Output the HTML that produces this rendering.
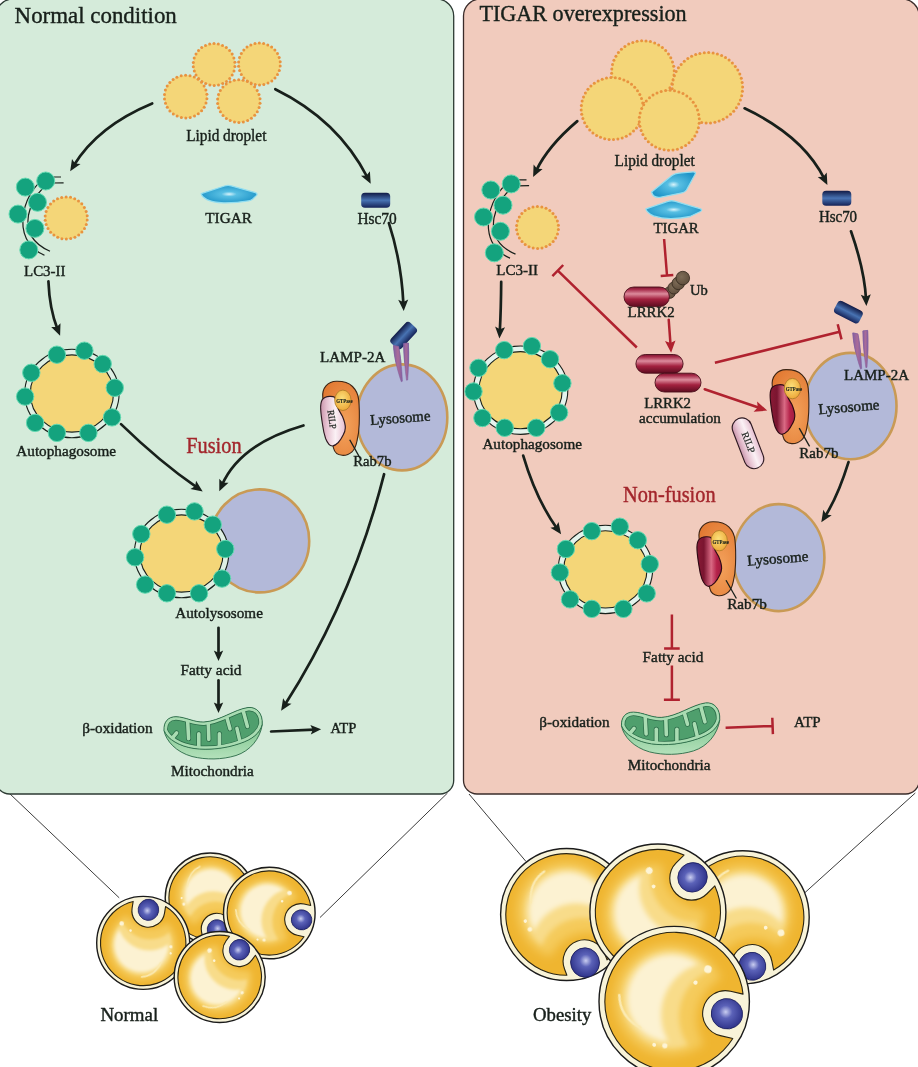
<!DOCTYPE html>
<html lang="en">
<head>
<meta charset="utf-8">
<title>TIGAR, lipophagy and obesity</title>
<style>html,body{margin:0;padding:0;background:#fff}body{width:918px;height:1067px;overflow:hidden}</style>
</head>
<body>
<svg width="918" height="1067" viewBox="0 0 918 1067" font-family="'Liberation Serif', 'DejaVu Serif', serif" style="display:block">
<defs>
<linearGradient id="gHsc" x1="0" y1="0" x2="0" y2="1">
 <stop offset="0" stop-color="#111a45"/><stop offset="0.5" stop-color="#4873b3"/><stop offset="1" stop-color="#152257"/>
</linearGradient>
<linearGradient id="gLrrk" x1="0" y1="0" x2="0" y2="1">
 <stop offset="0" stop-color="#7a1530"/><stop offset="0.12" stop-color="#a52a48"/><stop offset="0.35" stop-color="#dc8b9c"/><stop offset="0.62" stop-color="#a3213f"/><stop offset="1" stop-color="#5d0c20"/>
</linearGradient>
<linearGradient id="gLrrkV" x1="0" y1="0" x2="1" y2="0">
 <stop offset="0" stop-color="#8a1a35"/><stop offset="0.28" stop-color="#7a1530"/><stop offset="0.58" stop-color="#d96a84"/><stop offset="0.8" stop-color="#b5234a"/><stop offset="1" stop-color="#a01c40"/>
</linearGradient>
<linearGradient id="gRilp" x1="0" y1="0" x2="1" y2="0">
 <stop offset="0" stop-color="#c995ab"/><stop offset="0.25" stop-color="#e6c2d1"/><stop offset="0.6" stop-color="#fbf1f5"/><stop offset="1" stop-color="#e6bfd0"/>
</linearGradient>
<radialGradient id="gRab" cx="0.6" cy="0.6" r="0.7">
 <stop offset="0" stop-color="#f3a25c"/><stop offset="1" stop-color="#e27a33"/>
</radialGradient>
<radialGradient id="gGtp" cx="0.45" cy="0.4" r="0.6">
 <stop offset="0" stop-color="#fbe07a"/><stop offset="1" stop-color="#eea93a"/>
</radialGradient>
<radialGradient id="gTigar" cx="0.5" cy="0.5" r="0.55">
 <stop offset="0" stop-color="#d9f4fb"/><stop offset="0.25" stop-color="#58bfe3"/><stop offset="1" stop-color="#1f95c8"/>
</radialGradient>
<radialGradient id="gNuc" cx="0.45" cy="0.45" r="0.6">
 <stop offset="0" stop-color="#c9cdf0"/><stop offset="0.35" stop-color="#5b62b8"/><stop offset="1" stop-color="#2b2f86"/>
</radialGradient>
<radialGradient id="gUb" cx="0.4" cy="0.4" r="0.7">
 <stop offset="0" stop-color="#7e6c57"/><stop offset="1" stop-color="#5c4b3a"/>
</radialGradient>
<linearGradient id="gLamp" x1="0" y1="0" x2="1" y2="0">
 <stop offset="0" stop-color="#8461a3"/><stop offset="0.5" stop-color="#a96b98"/><stop offset="1" stop-color="#8461a3"/>
</linearGradient>
<radialGradient id="gLip" cx="0.5" cy="0.5" r="0.5">
 <stop offset="0" stop-color="#f6d068"/><stop offset="0.62" stop-color="#f2c34d"/><stop offset="0.86" stop-color="#eaae2c"/><stop offset="1" stop-color="#e09c1c"/>
</radialGradient>
<filter id="fBlur0" x="-50%" y="-50%" width="200%" height="200%"><feGaussianBlur stdDeviation="0.6"/></filter>
<filter id="fBlur2S" x="-30%" y="-30%" width="160%" height="160%"><feGaussianBlur stdDeviation="3.2"/></filter>
<filter id="fBlur2L" x="-30%" y="-30%" width="160%" height="160%"><feGaussianBlur stdDeviation="4.6"/></filter>
<filter id="fBlurS" x="-30%" y="-30%" width="160%" height="160%"><feGaussianBlur stdDeviation="1.8"/></filter>
<filter id="fBlurL" x="-30%" y="-30%" width="160%" height="160%"><feGaussianBlur stdDeviation="2.6"/></filter>
<linearGradient id="gMitoLow" x1="0" y1="0" x2="0" y2="1">
 <stop offset="0" stop-color="#7cc48d"/><stop offset="1" stop-color="#b4e1bb"/>
</linearGradient>
<clipPath id="mf1"><path d="M164 730.4 C163.5 722 168 716.6 176 716.7 C186 717 194 722.5 204 722 C220 721 234 709.5 248 707.5 C257 706.5 263 714 262.2 724.3 C260 733.5 252 739.5 240 743.5 C226 748.5 208 750.5 194 748.5 C180 746.5 167.5 739.5 164 730.4Z"/></clipPath><clipPath id="mf2"><path d="M164 730.4 C163.5 722 168 716.6 176 716.7 C186 717 194 722.5 204 722 C220 721 234 709.5 248 707.5 C257 706.5 263 714 262.2 724.3 C260 733.5 252 739.5 240 743.5 C226 748.5 208 750.5 194 748.5 C180 746.5 167.5 739.5 164 730.4Z"/></clipPath><clipPath id="cl1"><path d="M38.3 15.5 A41.3 41.3 0 1 1 38.3 -15.5 L31.5 -15.5 A15.5 15.5 0 0 0 31.5 15.5Z"/></clipPath><mask id="m1_4" maskUnits="userSpaceOnUse" x="-45.0" y="-45.0" width="90.0" height="90.0"><rect x="-45.0" y="-45.0" width="90.0" height="90.0" fill="#000"/><circle cx="-2.7" cy="-0.5" r="33.3" fill="#fff"/><circle cx="42.8" cy="0.9" r="27.9" fill="#000"/></mask><mask id="m1_5" maskUnits="userSpaceOnUse" x="-45.0" y="-45.0" width="90.0" height="90.0"><rect x="-45.0" y="-45.0" width="90.0" height="90.0" fill="#000"/><circle cx="-2.2" cy="-0.9" r="29.2" fill="#fff"/><circle cx="33.8" cy="1.3" r="29.7" fill="#000"/></mask><mask id="m1_6" maskUnits="userSpaceOnUse" x="-45.0" y="-45.0" width="90.0" height="90.0"><rect x="-45.0" y="-45.0" width="90.0" height="90.0" fill="#000"/><circle cx="-2.2" cy="-1.3" r="26.1" fill="#fff"/><circle cx="24.8" cy="2.2" r="31.5" fill="#000"/></mask><clipPath id="cl2"><path d="M38.9 16.0 A42.1 42.1 0 1 1 38.9 -16.0 L32.1 -16.0 A16.0 16.0 0 0 0 32.1 16.0Z"/></clipPath><mask id="m2_8" maskUnits="userSpaceOnUse" x="-45.8" y="-45.8" width="91.6" height="91.6"><rect x="-45.8" y="-45.8" width="91.6" height="91.6" fill="#000"/><circle cx="-2.7" cy="-0.5" r="33.9" fill="#fff"/><circle cx="43.5" cy="0.9" r="28.4" fill="#000"/></mask><mask id="m2_9" maskUnits="userSpaceOnUse" x="-45.8" y="-45.8" width="91.6" height="91.6"><rect x="-45.8" y="-45.8" width="91.6" height="91.6" fill="#000"/><circle cx="-2.3" cy="-0.9" r="29.8" fill="#fff"/><circle cx="34.3" cy="1.4" r="30.2" fill="#000"/></mask><mask id="m2_10" maskUnits="userSpaceOnUse" x="-45.8" y="-45.8" width="91.6" height="91.6"><rect x="-45.8" y="-45.8" width="91.6" height="91.6" fill="#000"/><circle cx="-2.3" cy="-1.4" r="26.6" fill="#fff"/><circle cx="25.2" cy="2.3" r="32.1" fill="#000"/></mask><clipPath id="cl3"><path d="M39.4 16.4 A42.7 42.7 0 1 1 39.4 -16.4 L32.5 -16.4 A16.4 16.4 0 0 0 32.5 16.4Z"/></clipPath><mask id="m3_12" maskUnits="userSpaceOnUse" x="-46.5" y="-46.5" width="93.0" height="93.0"><rect x="-46.5" y="-46.5" width="93.0" height="93.0" fill="#000"/><circle cx="-2.8" cy="-0.5" r="34.4" fill="#fff"/><circle cx="44.2" cy="0.9" r="28.8" fill="#000"/></mask><mask id="m3_13" maskUnits="userSpaceOnUse" x="-46.5" y="-46.5" width="93.0" height="93.0"><rect x="-46.5" y="-46.5" width="93.0" height="93.0" fill="#000"/><circle cx="-2.3" cy="-0.9" r="30.2" fill="#fff"/><circle cx="34.9" cy="1.4" r="30.7" fill="#000"/></mask><mask id="m3_14" maskUnits="userSpaceOnUse" x="-46.5" y="-46.5" width="93.0" height="93.0"><rect x="-46.5" y="-46.5" width="93.0" height="93.0" fill="#000"/><circle cx="-2.3" cy="-1.4" r="27.0" fill="#fff"/><circle cx="25.6" cy="2.3" r="32.5" fill="#000"/></mask><clipPath id="cl4"><path d="M38.6 16.1 A41.8 41.8 0 1 1 38.6 -16.1 L32.8 -16.1 A16.1 16.1 0 0 0 32.8 16.1Z"/></clipPath><mask id="m4_16" maskUnits="userSpaceOnUse" x="-45.5" y="-45.5" width="91.0" height="91.0"><rect x="-45.5" y="-45.5" width="91.0" height="91.0" fill="#000"/><circle cx="-2.7" cy="-0.5" r="33.7" fill="#fff"/><circle cx="43.2" cy="0.9" r="28.2" fill="#000"/></mask><mask id="m4_17" maskUnits="userSpaceOnUse" x="-45.5" y="-45.5" width="91.0" height="91.0"><rect x="-45.5" y="-45.5" width="91.0" height="91.0" fill="#000"/><circle cx="-2.3" cy="-0.9" r="29.6" fill="#fff"/><circle cx="34.1" cy="1.4" r="30.0" fill="#000"/></mask><mask id="m4_18" maskUnits="userSpaceOnUse" x="-45.5" y="-45.5" width="91.0" height="91.0"><rect x="-45.5" y="-45.5" width="91.0" height="91.0" fill="#000"/><circle cx="-2.3" cy="-1.4" r="26.4" fill="#fff"/><circle cx="25.0" cy="2.3" r="31.8" fill="#000"/></mask><clipPath id="cl5"><path d="M56.8 21.5 A60.8 60.8 0 1 1 56.8 -21.5 L50.2 -21.5 A21.5 21.5 0 0 0 50.2 21.5Z"/></clipPath><mask id="m5_20" maskUnits="userSpaceOnUse" x="-66.0" y="-66.0" width="132.0" height="132.0"><rect x="-66.0" y="-66.0" width="132.0" height="132.0" fill="#000"/><circle cx="-4.0" cy="-0.7" r="48.8" fill="#fff"/><circle cx="62.7" cy="1.3" r="40.9" fill="#000"/></mask><mask id="m5_21" maskUnits="userSpaceOnUse" x="-66.0" y="-66.0" width="132.0" height="132.0"><rect x="-66.0" y="-66.0" width="132.0" height="132.0" fill="#000"/><circle cx="-3.3" cy="-1.3" r="42.9" fill="#fff"/><circle cx="49.5" cy="2.0" r="43.6" fill="#000"/></mask><mask id="m5_22" maskUnits="userSpaceOnUse" x="-66.0" y="-66.0" width="132.0" height="132.0"><rect x="-66.0" y="-66.0" width="132.0" height="132.0" fill="#000"/><circle cx="-3.3" cy="-2.0" r="38.3" fill="#fff"/><circle cx="36.3" cy="3.3" r="46.2" fill="#000"/></mask><clipPath id="cl6"><path d="M57.7 20.3 A61.2 61.2 0 1 1 57.7 -20.3 L48.5 -20.3 A20.3 20.3 0 0 0 48.5 20.3Z"/></clipPath><mask id="m6_24" maskUnits="userSpaceOnUse" x="-66.5" y="-66.5" width="133.0" height="133.0"><rect x="-66.5" y="-66.5" width="133.0" height="133.0" fill="#000"/><circle cx="-4.0" cy="-0.7" r="49.2" fill="#fff"/><circle cx="63.2" cy="1.3" r="41.2" fill="#000"/></mask><mask id="m6_25" maskUnits="userSpaceOnUse" x="-66.5" y="-66.5" width="133.0" height="133.0"><rect x="-66.5" y="-66.5" width="133.0" height="133.0" fill="#000"/><circle cx="-3.3" cy="-1.3" r="43.2" fill="#fff"/><circle cx="49.9" cy="2.0" r="43.9" fill="#000"/></mask><mask id="m6_26" maskUnits="userSpaceOnUse" x="-66.5" y="-66.5" width="133.0" height="133.0"><rect x="-66.5" y="-66.5" width="133.0" height="133.0" fill="#000"/><circle cx="-3.3" cy="-2.0" r="38.6" fill="#fff"/><circle cx="36.6" cy="3.3" r="46.5" fill="#000"/></mask><clipPath id="cl7"><path d="M58.7 21.8 A62.6 62.6 0 1 1 58.7 -21.8 L47.6 -21.8 A21.8 21.8 0 0 0 47.6 21.8Z"/></clipPath><mask id="m7_28" maskUnits="userSpaceOnUse" x="-68.0" y="-68.0" width="136.0" height="136.0"><rect x="-68.0" y="-68.0" width="136.0" height="136.0" fill="#000"/><circle cx="-4.1" cy="-0.7" r="50.3" fill="#fff"/><circle cx="64.6" cy="1.4" r="42.2" fill="#000"/></mask><mask id="m7_29" maskUnits="userSpaceOnUse" x="-68.0" y="-68.0" width="136.0" height="136.0"><rect x="-68.0" y="-68.0" width="136.0" height="136.0" fill="#000"/><circle cx="-3.4" cy="-1.4" r="44.2" fill="#fff"/><circle cx="51.0" cy="2.0" r="44.9" fill="#000"/></mask><mask id="m7_30" maskUnits="userSpaceOnUse" x="-68.0" y="-68.0" width="136.0" height="136.0"><rect x="-68.0" y="-68.0" width="136.0" height="136.0" fill="#000"/><circle cx="-3.4" cy="-2.0" r="39.4" fill="#fff"/><circle cx="37.4" cy="3.4" r="47.6" fill="#000"/></mask><clipPath id="cl8"><path d="M65.4 22.8 A69.3 69.3 0 1 1 65.4 -22.8 L52.6 -22.8 A22.8 22.8 0 0 0 52.6 22.8Z"/></clipPath><mask id="m8_32" maskUnits="userSpaceOnUse" x="-75.2" y="-75.2" width="150.4" height="150.4"><rect x="-75.2" y="-75.2" width="150.4" height="150.4" fill="#000"/><circle cx="-4.5" cy="-0.8" r="55.6" fill="#fff"/><circle cx="71.4" cy="1.5" r="46.6" fill="#000"/></mask><mask id="m8_33" maskUnits="userSpaceOnUse" x="-75.2" y="-75.2" width="150.4" height="150.4"><rect x="-75.2" y="-75.2" width="150.4" height="150.4" fill="#000"/><circle cx="-3.8" cy="-1.5" r="48.9" fill="#fff"/><circle cx="56.4" cy="2.3" r="49.6" fill="#000"/></mask><mask id="m8_34" maskUnits="userSpaceOnUse" x="-75.2" y="-75.2" width="150.4" height="150.4"><rect x="-75.2" y="-75.2" width="150.4" height="150.4" fill="#000"/><circle cx="-3.8" cy="-2.3" r="43.6" fill="#fff"/><circle cx="41.4" cy="3.8" r="52.6" fill="#000"/></mask></defs>
<g opacity="0.999">
<rect x="0" y="0" width="918" height="1067" fill="#ffffff"/>
<g stroke="#3c3c3c" stroke-width="1" fill="none"><path d="M9 793 L119.2 897.8"/><path d="M447.5 793 L320 917.5"/><path d="M469 794 L526 861.5"/><path d="M915.3 793 L804.5 893"/></g>
<path d="M13 -1 L436.7 -1 A17 17 0 0 1 453.7 16 L453.7 780.5 A13.5 13.5 0 0 1 440.2 794 L9.5 794 A13.5 13.5 0 0 1 -4 780.5 L-4 16 A17 17 0 0 1 13 -1Z" fill="#d5ebda" stroke="#2c3a33" stroke-width="1.3"/>
<path d="M480.5 -1 L902.2 -1 A17 17 0 0 1 919.2 16 L919.2 780.5 A13.5 13.5 0 0 1 905.7 794 L477.0 794 A13.5 13.5 0 0 1 463.5 780.5 L463.5 16 A17 17 0 0 1 480.5 -1Z" fill="#f1cbbd" stroke="#3a2c2a" stroke-width="1.3"/>
<text x="14.6" y="23.0" font-size="23.6" fill="#18201b" stroke="#18201b" stroke-width="0.42" textLength="162.2" lengthAdjust="spacingAndGlyphs" >Normal condition</text>
<text x="479.4" y="21.4" font-size="23.6" fill="#18201b" stroke="#18201b" stroke-width="0.42" textLength="207.3" lengthAdjust="spacingAndGlyphs" >TIGAR overexpression</text>
<circle cx="214.1" cy="64.5" r="20.9" fill="#f4d678"/>
<g fill="#e8933f"><circle cx="234.9" cy="66.6" r="1.5"/><circle cx="234.0" cy="70.9" r="1.5"/><circle cx="232.2" cy="74.9" r="1.5"/><circle cx="229.7" cy="78.4" r="1.5"/><circle cx="226.5" cy="81.4" r="1.5"/><circle cx="222.7" cy="83.6" r="1.5"/><circle cx="218.5" cy="84.9" r="1.5"/><circle cx="214.2" cy="85.4" r="1.5"/><circle cx="209.9" cy="85.0" r="1.5"/><circle cx="205.7" cy="83.6" r="1.5"/><circle cx="201.9" cy="81.5" r="1.5"/><circle cx="198.6" cy="78.6" r="1.5"/><circle cx="196.0" cy="75.0" r="1.5"/><circle cx="194.3" cy="71.1" r="1.5"/><circle cx="193.3" cy="66.8" r="1.5"/><circle cx="193.3" cy="62.4" r="1.5"/><circle cx="194.2" cy="58.1" r="1.5"/><circle cx="196.0" cy="54.1" r="1.5"/><circle cx="198.5" cy="50.6" r="1.5"/><circle cx="201.7" cy="47.6" r="1.5"/><circle cx="205.5" cy="45.4" r="1.5"/><circle cx="209.7" cy="44.1" r="1.5"/><circle cx="214.0" cy="43.6" r="1.5"/><circle cx="218.3" cy="44.0" r="1.5"/><circle cx="222.5" cy="45.4" r="1.5"/><circle cx="226.3" cy="47.5" r="1.5"/><circle cx="229.6" cy="50.4" r="1.5"/><circle cx="232.2" cy="54.0" r="1.5"/><circle cx="233.9" cy="57.9" r="1.5"/><circle cx="234.9" cy="62.2" r="1.5"/></g>
<circle cx="259.4" cy="64.0" r="20.9" fill="#f4d678"/>
<g fill="#e8933f"><circle cx="280.2" cy="66.1" r="1.5"/><circle cx="279.3" cy="70.4" r="1.5"/><circle cx="277.5" cy="74.4" r="1.5"/><circle cx="275.0" cy="77.9" r="1.5"/><circle cx="271.8" cy="80.9" r="1.5"/><circle cx="268.0" cy="83.1" r="1.5"/><circle cx="263.8" cy="84.4" r="1.5"/><circle cx="259.5" cy="84.9" r="1.5"/><circle cx="255.2" cy="84.5" r="1.5"/><circle cx="251.0" cy="83.1" r="1.5"/><circle cx="247.2" cy="81.0" r="1.5"/><circle cx="243.9" cy="78.1" r="1.5"/><circle cx="241.3" cy="74.5" r="1.5"/><circle cx="239.6" cy="70.6" r="1.5"/><circle cx="238.6" cy="66.3" r="1.5"/><circle cx="238.6" cy="61.9" r="1.5"/><circle cx="239.5" cy="57.6" r="1.5"/><circle cx="241.3" cy="53.6" r="1.5"/><circle cx="243.8" cy="50.1" r="1.5"/><circle cx="247.0" cy="47.1" r="1.5"/><circle cx="250.8" cy="44.9" r="1.5"/><circle cx="255.0" cy="43.6" r="1.5"/><circle cx="259.3" cy="43.1" r="1.5"/><circle cx="263.6" cy="43.5" r="1.5"/><circle cx="267.8" cy="44.9" r="1.5"/><circle cx="271.6" cy="47.0" r="1.5"/><circle cx="274.9" cy="49.9" r="1.5"/><circle cx="277.5" cy="53.5" r="1.5"/><circle cx="279.2" cy="57.4" r="1.5"/><circle cx="280.2" cy="61.7" r="1.5"/></g>
<circle cx="185.7" cy="96.6" r="21.3" fill="#f4d678"/>
<g fill="#e8933f"><circle cx="206.9" cy="98.7" r="1.5"/><circle cx="206.0" cy="103.1" r="1.5"/><circle cx="204.2" cy="107.2" r="1.5"/><circle cx="201.6" cy="110.8" r="1.5"/><circle cx="198.3" cy="113.8" r="1.5"/><circle cx="194.5" cy="116.0" r="1.5"/><circle cx="190.2" cy="117.4" r="1.5"/><circle cx="185.8" cy="117.9" r="1.5"/><circle cx="181.4" cy="117.5" r="1.5"/><circle cx="177.1" cy="116.1" r="1.5"/><circle cx="173.3" cy="113.9" r="1.5"/><circle cx="169.9" cy="110.9" r="1.5"/><circle cx="167.3" cy="107.3" r="1.5"/><circle cx="165.5" cy="103.3" r="1.5"/><circle cx="164.5" cy="98.9" r="1.5"/><circle cx="164.5" cy="94.5" r="1.5"/><circle cx="165.4" cy="90.1" r="1.5"/><circle cx="167.2" cy="86.0" r="1.5"/><circle cx="169.8" cy="82.4" r="1.5"/><circle cx="173.1" cy="79.4" r="1.5"/><circle cx="176.9" cy="77.2" r="1.5"/><circle cx="181.2" cy="75.8" r="1.5"/><circle cx="185.6" cy="75.3" r="1.5"/><circle cx="190.0" cy="75.7" r="1.5"/><circle cx="194.3" cy="77.1" r="1.5"/><circle cx="198.1" cy="79.3" r="1.5"/><circle cx="201.5" cy="82.3" r="1.5"/><circle cx="204.1" cy="85.9" r="1.5"/><circle cx="205.9" cy="89.9" r="1.5"/><circle cx="206.9" cy="94.3" r="1.5"/></g>
<circle cx="238.8" cy="101.1" r="21.3" fill="#f4d678"/>
<g fill="#e8933f"><circle cx="260.0" cy="103.2" r="1.5"/><circle cx="259.1" cy="107.6" r="1.5"/><circle cx="257.3" cy="111.7" r="1.5"/><circle cx="254.7" cy="115.3" r="1.5"/><circle cx="251.4" cy="118.3" r="1.5"/><circle cx="247.6" cy="120.5" r="1.5"/><circle cx="243.3" cy="121.9" r="1.5"/><circle cx="238.9" cy="122.4" r="1.5"/><circle cx="234.5" cy="122.0" r="1.5"/><circle cx="230.2" cy="120.6" r="1.5"/><circle cx="226.4" cy="118.4" r="1.5"/><circle cx="223.0" cy="115.4" r="1.5"/><circle cx="220.4" cy="111.8" r="1.5"/><circle cx="218.6" cy="107.8" r="1.5"/><circle cx="217.6" cy="103.4" r="1.5"/><circle cx="217.6" cy="99.0" r="1.5"/><circle cx="218.5" cy="94.6" r="1.5"/><circle cx="220.3" cy="90.5" r="1.5"/><circle cx="222.9" cy="86.9" r="1.5"/><circle cx="226.2" cy="83.9" r="1.5"/><circle cx="230.0" cy="81.7" r="1.5"/><circle cx="234.3" cy="80.3" r="1.5"/><circle cx="238.7" cy="79.8" r="1.5"/><circle cx="243.1" cy="80.2" r="1.5"/><circle cx="247.4" cy="81.6" r="1.5"/><circle cx="251.2" cy="83.8" r="1.5"/><circle cx="254.6" cy="86.8" r="1.5"/><circle cx="257.2" cy="90.4" r="1.5"/><circle cx="259.0" cy="94.4" r="1.5"/><circle cx="260.0" cy="98.8" r="1.5"/></g>
<text x="186.2" y="140.7" font-size="16" fill="#18201b" stroke="#18201b" stroke-width="0.42" textLength="80.2" lengthAdjust="spacingAndGlyphs" >Lipid droplet</text>
<path d="M152.2 103.5 Q98.0 126.0 73.9 165.3" fill="none" stroke="#18201b" stroke-width="2.7" stroke-linecap="round"/>
<polygon points="70.2,171.3 72.0,158.9 75.0,163.5 80.5,164.1" fill="#18201b"/>
<path d="M275.3 89.2 Q338.0 120.0 367.5 177.5" fill="none" stroke="#18201b" stroke-width="2.7" stroke-linecap="round"/>
<polygon points="370.7,183.7 361.0,175.8 366.5,175.5 369.9,171.2" fill="#18201b"/>
<g transform="translate(0 0)" fill="none" stroke="#18201b" stroke-width="1.2"><path d="M61 177 L49 177 C38 180 27 195 23.5 213 C20.5 232 27 248 44.5 255.2"/><path d="M63.6 182.8 L52 183 C42 186 32 199 28.5 215 C26 230 32 243.5 50 251.2"/></g>
<circle cx="25.3" cy="187.1" r="9.0" fill="#14a37e" stroke="#63d9b1" stroke-width="1.0"/>
<circle cx="45.7" cy="181.0" r="9.0" fill="#14a37e" stroke="#63d9b1" stroke-width="1.0"/>
<circle cx="37.5" cy="202.3" r="9.0" fill="#14a37e" stroke="#63d9b1" stroke-width="1.0"/>
<circle cx="18.0" cy="214.1" r="9.0" fill="#14a37e" stroke="#63d9b1" stroke-width="1.0"/>
<circle cx="34.9" cy="228.4" r="9.0" fill="#14a37e" stroke="#63d9b1" stroke-width="1.0"/>
<circle cx="28.8" cy="249.9" r="9.0" fill="#14a37e" stroke="#63d9b1" stroke-width="1.0"/>
<circle cx="66.2" cy="218.0" r="21.1" fill="#f4d678"/>
<g fill="#e8933f"><circle cx="87.2" cy="220.1" r="1.5"/><circle cx="86.3" cy="224.4" r="1.5"/><circle cx="84.5" cy="228.5" r="1.5"/><circle cx="81.9" cy="232.0" r="1.5"/><circle cx="78.7" cy="235.0" r="1.5"/><circle cx="74.9" cy="237.2" r="1.5"/><circle cx="70.7" cy="238.6" r="1.5"/><circle cx="66.3" cy="239.1" r="1.5"/><circle cx="61.9" cy="238.7" r="1.5"/><circle cx="57.7" cy="237.3" r="1.5"/><circle cx="53.9" cy="235.1" r="1.5"/><circle cx="50.6" cy="232.2" r="1.5"/><circle cx="48.0" cy="228.6" r="1.5"/><circle cx="46.2" cy="224.6" r="1.5"/><circle cx="45.2" cy="220.3" r="1.5"/><circle cx="45.2" cy="215.9" r="1.5"/><circle cx="46.1" cy="211.6" r="1.5"/><circle cx="47.9" cy="207.5" r="1.5"/><circle cx="50.5" cy="204.0" r="1.5"/><circle cx="53.7" cy="201.0" r="1.5"/><circle cx="57.5" cy="198.8" r="1.5"/><circle cx="61.7" cy="197.4" r="1.5"/><circle cx="66.1" cy="196.9" r="1.5"/><circle cx="70.5" cy="197.3" r="1.5"/><circle cx="74.7" cy="198.7" r="1.5"/><circle cx="78.5" cy="200.9" r="1.5"/><circle cx="81.8" cy="203.8" r="1.5"/><circle cx="84.4" cy="207.4" r="1.5"/><circle cx="86.2" cy="211.4" r="1.5"/><circle cx="87.2" cy="215.7" r="1.5"/></g>
<text x="24.0" y="275.5" font-size="15" fill="#18201b" stroke="#18201b" stroke-width="0.42" textLength="41.5" lengthAdjust="spacingAndGlyphs" >LC3-II</text>
<path d="M201.2 193.6 L224.5 186 Q227.9 184.9 231.3 185.9 L255.5 192.6 Q258 193.6 256.3 195.6 L252.5 199.2 Q251 200.4 248.5 200.8 Q236 203 223.6 202.8 Q213 202.5 207 199.6 Q201.5 196.5 201.2 193.6Z" fill="url(#gTigar)" stroke="#93def0" stroke-width="1.3" stroke-linejoin="round"/>
<text x="205.3" y="223.2" font-size="15.3" fill="#18201b" stroke="#18201b" stroke-width="0.42" textLength="46.6" lengthAdjust="spacingAndGlyphs" >TIGAR</text>
<rect x="361.2" y="192.8" width="29" height="15" rx="3.8" fill="url(#gHsc)" transform="rotate(0 375.7 200.3)"/>
<text x="357.4" y="223.6" font-size="16" fill="#18201b" stroke="#18201b" stroke-width="0.42" textLength="39.2" lengthAdjust="spacingAndGlyphs" >Hsc70</text>
<path d="M388.9 223.1 Q401.5 262.0 403.4 304.1" fill="none" stroke="#18201b" stroke-width="2.7" stroke-linecap="round"/>
<polygon points="403.7,311.1 398.2,299.8 403.3,301.9 408.2,299.4" fill="#18201b"/>
<rect x="389.6" y="328.4" width="28" height="14.5" rx="3.8" fill="url(#gHsc)" transform="rotate(-47 403.6 335.6)"/>
<path d="M48.4 281.3 Q49.5 309.0 57.5 329.2" fill="none" stroke="#18201b" stroke-width="2.7" stroke-linecap="round"/>
<polygon points="60.1,335.7 51.2,326.9 56.7,327.1 60.5,323.2" fill="#18201b"/>
<ellipse cx="71.9" cy="393.5" rx="47.2" ry="44.2" fill="#deefe3" stroke="#18201b" stroke-width="1.1"/>
<ellipse cx="71.9" cy="393.5" rx="41.6" ry="38.6" fill="#f4d678" stroke="#18201b" stroke-width="1.1"/>
<circle cx="56.9" cy="354.7" r="8.7" fill="#14a37e" stroke="#63d9b1" stroke-width="1.0"/>
<circle cx="84.4" cy="350.7" r="8.7" fill="#14a37e" stroke="#63d9b1" stroke-width="1.0"/>
<circle cx="102.7" cy="364.0" r="8.7" fill="#14a37e" stroke="#63d9b1" stroke-width="1.0"/>
<circle cx="114.8" cy="387.8" r="8.7" fill="#14a37e" stroke="#63d9b1" stroke-width="1.0"/>
<circle cx="112.0" cy="417.4" r="8.7" fill="#14a37e" stroke="#63d9b1" stroke-width="1.0"/>
<circle cx="88.4" cy="432.9" r="8.7" fill="#14a37e" stroke="#63d9b1" stroke-width="1.0"/>
<circle cx="56.9" cy="432.9" r="8.7" fill="#14a37e" stroke="#63d9b1" stroke-width="1.0"/>
<circle cx="35.1" cy="422.9" r="8.7" fill="#14a37e" stroke="#63d9b1" stroke-width="1.0"/>
<circle cx="25.1" cy="396.6" r="8.7" fill="#14a37e" stroke="#63d9b1" stroke-width="1.0"/>
<circle cx="31.3" cy="372.8" r="8.7" fill="#14a37e" stroke="#63d9b1" stroke-width="1.0"/>
<text x="16.3" y="456.0" font-size="15" fill="#18201b" stroke="#18201b" stroke-width="0.42" textLength="99.7" lengthAdjust="spacingAndGlyphs" >Autophagosome</text>
<text x="186.2" y="452.5" font-size="22.6" fill="#a3262c" stroke="#a3262c" stroke-width="0.42" textLength="55.4" lengthAdjust="spacingAndGlyphs" >Fusion</text>
<g transform="translate(0 0)"><path d="M393.5 345.5 C394 355 396.5 368 401.3 381.8 L402.4 381.2 C401.8 368 400.5 356 398.6 346.5Z" fill="url(#gLamp)" stroke="#7d5a9c" stroke-width="0.5"/><path d="M403.6 343.5 C403.8 356 405 369 406.5 380.2 L407.7 380 C408.6 368 409 355 408.4 343Z" fill="url(#gLamp)" stroke="#7d5a9c" stroke-width="0.5"/></g>
<ellipse cx="402.0" cy="417.4" rx="45.3" ry="53.0" fill="#b3b9d9" stroke="#c99a55" stroke-width="2.6"/>
<g transform="translate(0 0)"><path d="M393.5 345.5 C394 355 396.5 368 401.3 381.8 L402.4 381.2 C401.8 368 400.5 356 398.6 346.5Z" fill="url(#gLamp)" stroke="#7d5a9c" stroke-width="0.5"/><path d="M403.6 343.5 C403.8 356 405 369 406.5 380.2 L407.7 380 C408.6 368 409 355 408.4 343Z" fill="url(#gLamp)" stroke="#7d5a9c" stroke-width="0.5"/></g>
<g transform="translate(0 0)">
<path d="M322.8 398 C321.5 388 328 381.5 336.5 381.3 C343 381.2 349 383 352.5 386.5 C356.5 390.5 358.3 395 358.7 400 C359.5 408 359.5 416 359.2 424 C359 430 358.3 436 357 441 C356 446 354.5 449.5 352 451.8 C349 454.5 345.5 455.5 342.2 455.3 C338 455 334.5 452.5 333.5 448 L322.8 398Z" fill="url(#gRab)" stroke="#3b2414" stroke-width="1.1"/>
<path d="M322.3 399.6 C324 397.5 327 396.5 329.6 396.4 C331.5 396.3 333.5 396.5 334.7 397.2 C336 400.5 336.5 404 337.7 407.5 C339 411 341 413.5 342.4 416.2 C344 420 345.5 424 345.3 428 C345.2 430.5 344.5 432.8 343.3 434.8 C342 437.5 340.3 440.3 338.3 442.5 C336.5 444.3 334.5 445.8 332.4 446 C329.5 446 327 442 325.6 438.5 C324 434 323.2 429.5 322.6 425 C321.8 420 321 414.5 320.7 409.5 C320.5 406 320.8 402 322.3 399.6Z" fill="url(#gRilp)" stroke="#2e1a22" stroke-width="1.15"/>
<text x="327.6" y="410.6" font-size="9.6" fill="#18201b" stroke="#18201b" stroke-width="0.25" textLength="18.8" lengthAdjust="spacingAndGlyphs" transform="rotate(82 327.6 410.6)" >RILP</text>
<ellipse cx="342.9" cy="400.3" rx="8.2" ry="10.2" fill="url(#gGtp)" stroke="#a97a25" stroke-width="0.8"/>
<text x="336.2" y="403.2" font-size="5.2" fill="#18201b" stroke="#18201b" stroke-width="0.1" textLength="16.4" lengthAdjust="spacingAndGlyphs" font-weight="bold" >GTPase</text>
<path d="M349.7 439.8 L360.1 458.1" stroke="#18201b" stroke-width="1.3" fill="none"/>
</g>
<text x="320.0" y="362.3" font-size="15" fill="#18201b" stroke="#18201b" stroke-width="0.42" textLength="65.4" lengthAdjust="spacingAndGlyphs" >LAMP-2A</text>
<text x="370.6" y="425.0" font-size="15" fill="#18201b" stroke="#18201b" stroke-width="0.42" textLength="60.3" lengthAdjust="spacingAndGlyphs" transform="rotate(-4.3 370.6 425.0)" >Lysosome</text>
<text x="353.2" y="465.8" font-size="15" fill="#18201b" stroke="#18201b" stroke-width="0.42" textLength="38.3" lengthAdjust="spacingAndGlyphs" >Rab7b</text>
<path d="M121.0 424.1 Q160.0 462.0 196.9 487.4" fill="none" stroke="#18201b" stroke-width="2.7" stroke-linecap="round"/>
<polygon points="202.7,491.4 190.4,489.0 195.1,486.2 196.1,480.8" fill="#18201b"/>
<path d="M303.4 425.5 Q240.0 444.0 222.1 484.8" fill="none" stroke="#18201b" stroke-width="2.7" stroke-linecap="round"/>
<polygon points="219.3,491.2 219.3,478.7 223.0,482.8 228.5,482.7" fill="#18201b"/>
<path d="M384.1 474.2 Q352.0 600.0 284.9 704.8" fill="none" stroke="#18201b" stroke-width="2.7" stroke-linecap="round"/>
<polygon points="281.1,710.7 283.1,698.3 286.1,703.0 291.5,703.7" fill="#18201b"/>
<ellipse cx="259.7" cy="540.9" rx="49.5" ry="51.5" fill="#b3b9d9" stroke="#c99a55" stroke-width="2.6"/>
<ellipse cx="181.5" cy="553.5" rx="47.2" ry="44.2" fill="#deefe3" stroke="#18201b" stroke-width="1.1"/>
<ellipse cx="181.5" cy="553.5" rx="41.6" ry="38.6" fill="#f4d678" stroke="#18201b" stroke-width="1.1"/>
<circle cx="166.9" cy="514.7" r="8.7" fill="#14a37e" stroke="#63d9b1" stroke-width="1.0"/>
<circle cx="194.5" cy="511.4" r="8.7" fill="#14a37e" stroke="#63d9b1" stroke-width="1.0"/>
<circle cx="212.8" cy="524.7" r="8.7" fill="#14a37e" stroke="#63d9b1" stroke-width="1.0"/>
<circle cx="225.3" cy="549.0" r="8.7" fill="#14a37e" stroke="#63d9b1" stroke-width="1.0"/>
<circle cx="222.0" cy="578.6" r="8.7" fill="#14a37e" stroke="#63d9b1" stroke-width="1.0"/>
<circle cx="199.0" cy="593.3" r="8.7" fill="#14a37e" stroke="#63d9b1" stroke-width="1.0"/>
<circle cx="166.9" cy="593.3" r="8.7" fill="#14a37e" stroke="#63d9b1" stroke-width="1.0"/>
<circle cx="145.1" cy="584.6" r="8.7" fill="#14a37e" stroke="#63d9b1" stroke-width="1.0"/>
<circle cx="135.1" cy="557.3" r="8.7" fill="#14a37e" stroke="#63d9b1" stroke-width="1.0"/>
<circle cx="141.3" cy="534.0" r="8.7" fill="#14a37e" stroke="#63d9b1" stroke-width="1.0"/>
<text x="175.2" y="618.4" font-size="15" fill="#18201b" stroke="#18201b" stroke-width="0.42" textLength="87.7" lengthAdjust="spacingAndGlyphs" >Autolysosome</text>
<path d="M218.5 627.8 Q218.5 645.0 218.5 654.1" fill="none" stroke="#18201b" stroke-width="2.7" stroke-linecap="round"/>
<polygon points="218.5,661.1 213.8,650.6 218.5,652.7 223.2,650.6" fill="#18201b"/>
<text x="180.4" y="674.8" font-size="15" fill="#18201b" stroke="#18201b" stroke-width="0.42" textLength="61.1" lengthAdjust="spacingAndGlyphs" >Fatty acid</text>
<path d="M218.5 680.4 Q218.5 697.0 218.5 706.0" fill="none" stroke="#18201b" stroke-width="2.7" stroke-linecap="round"/>
<polygon points="218.5,713.0 213.8,702.5 218.5,704.6 223.2,702.5" fill="#18201b"/>
<text x="82.2" y="733.3" font-size="15" fill="#18201b" stroke="#18201b" stroke-width="0.42" textLength="70.4" lengthAdjust="spacingAndGlyphs" >β-oxidation</text>
<text x="171.1" y="775.6" font-size="15" fill="#18201b" stroke="#18201b" stroke-width="0.42" textLength="82.6" lengthAdjust="spacingAndGlyphs" >Mitochondria</text>
<path d="M271.1 731.5 Q296.0 730.4 314.1 729.6" fill="none" stroke="#18201b" stroke-width="2.7" stroke-linecap="round"/>
<polygon points="321.1,729.3 310.8,734.5 312.7,729.7 310.4,725.0" fill="#18201b"/>
<text x="330.4" y="733.3" font-size="15" fill="#18201b" stroke="#18201b" stroke-width="0.42" textLength="25.9" lengthAdjust="spacingAndGlyphs" >ATP</text>
<g transform="translate(0 0)" stroke-linejoin="round">
<path d="M164 730.5 C166 741 176 752 192 756.5 C206 760 222 759.8 236 755.5 C250 751 260 739 262.3 724.5 L240 738 L200 747 L172 738Z" fill="url(#gMitoLow)" stroke="#2a6a47" stroke-width="0.9"/>
<path d="M164 730.4 C163.5 722 168 716.6 176 716.7 C186 717 194 722.5 204 722 C220 721 234 709.5 248 707.5 C257 706.5 263 714 262.2 724.3 C260 733.5 252 739.5 240 743.5 C226 748.5 208 750.5 194 748.5 C180 746.5 167.5 739.5 164 730.4Z" fill="#4f9f6d"/>
<g clip-path="url(#mf1)" fill="none" stroke-linecap="round"><g stroke="#2a6a47" stroke-width="5.0"><path d="M187.6 720 L188.6 738.6"/><path d="M208.2 720 L208.8 739.4"/><path d="M225.6 713 L230.0 728.8"/><path d="M242.4 708 L247.4 726.4"/><path d="M167.5 744 L176.6 732.9"/><path d="M198.8 752 L198.8 733.8"/><path d="M219.4 752 L219.4 733.8"/><path d="M241.0 746 L236.9 728.4"/></g><path d="M164 730.4 C163.5 722 168 716.6 176 716.7 C186 717 194 722.5 204 722 C220 721 234 709.5 248 707.5 C257 706.5 263 714 262.2 724.3 C260 733.5 252 739.5 240 743.5 C226 748.5 208 750.5 194 748.5 C180 746.5 167.5 739.5 164 730.4Z" stroke="#2a6a47" stroke-width="7.6"/><g stroke="#a9dcb2" stroke-width="3.6"><path d="M187.6 720 L188.6 738.6"/><path d="M208.2 720 L208.8 739.4"/><path d="M225.6 713 L230.0 728.8"/><path d="M242.4 708 L247.4 726.4"/><path d="M167.5 744 L176.6 732.9"/><path d="M198.8 752 L198.8 733.8"/><path d="M219.4 752 L219.4 733.8"/><path d="M241.0 746 L236.9 728.4"/></g><path d="M164 730.4 C163.5 722 168 716.6 176 716.7 C186 717 194 722.5 204 722 C220 721 234 709.5 248 707.5 C257 706.5 263 714 262.2 724.3 C260 733.5 252 739.5 240 743.5 C226 748.5 208 750.5 194 748.5 C180 746.5 167.5 739.5 164 730.4Z" stroke="#a9dcb2" stroke-width="6.2"/></g>
<path d="M164 730.4 C163.5 722 168 716.6 176 716.7 C186 717 194 722.5 204 722 C220 721 234 709.5 248 707.5 C257 706.5 263 714 262.2 724.3 C260 733.5 252 739.5 240 743.5 C226 748.5 208 750.5 194 748.5 C180 746.5 167.5 739.5 164 730.4Z" fill="none" stroke="#2a6a47" stroke-width="0.9"/>
</g>
<circle cx="642.9" cy="72.0" r="31.3" fill="#f4d678"/>
<g fill="#e8933f"><circle cx="674.0" cy="75.1" r="1.5"/><circle cx="673.3" cy="79.5" r="1.5"/><circle cx="671.9" cy="83.8" r="1.5"/><circle cx="669.9" cy="87.8" r="1.5"/><circle cx="667.4" cy="91.5" r="1.5"/><circle cx="664.4" cy="94.8" r="1.5"/><circle cx="660.9" cy="97.6" r="1.5"/><circle cx="657.1" cy="99.9" r="1.5"/><circle cx="653.0" cy="101.6" r="1.5"/><circle cx="648.7" cy="102.8" r="1.5"/><circle cx="644.2" cy="103.3" r="1.5"/><circle cx="639.8" cy="103.1" r="1.5"/><circle cx="635.4" cy="102.4" r="1.5"/><circle cx="631.1" cy="101.0" r="1.5"/><circle cx="627.1" cy="99.0" r="1.5"/><circle cx="623.4" cy="96.5" r="1.5"/><circle cx="620.1" cy="93.5" r="1.5"/><circle cx="617.3" cy="90.0" r="1.5"/><circle cx="615.0" cy="86.2" r="1.5"/><circle cx="613.3" cy="82.1" r="1.5"/><circle cx="612.1" cy="77.8" r="1.5"/><circle cx="611.6" cy="73.3" r="1.5"/><circle cx="611.8" cy="68.9" r="1.5"/><circle cx="612.5" cy="64.5" r="1.5"/><circle cx="613.9" cy="60.2" r="1.5"/><circle cx="615.9" cy="56.2" r="1.5"/><circle cx="618.4" cy="52.5" r="1.5"/><circle cx="621.4" cy="49.2" r="1.5"/><circle cx="624.9" cy="46.4" r="1.5"/><circle cx="628.7" cy="44.1" r="1.5"/><circle cx="632.8" cy="42.4" r="1.5"/><circle cx="637.1" cy="41.2" r="1.5"/><circle cx="641.6" cy="40.7" r="1.5"/><circle cx="646.0" cy="40.9" r="1.5"/><circle cx="650.4" cy="41.6" r="1.5"/><circle cx="654.7" cy="43.0" r="1.5"/><circle cx="658.7" cy="45.0" r="1.5"/><circle cx="662.4" cy="47.5" r="1.5"/><circle cx="665.7" cy="50.5" r="1.5"/><circle cx="668.5" cy="54.0" r="1.5"/><circle cx="670.8" cy="57.8" r="1.5"/><circle cx="672.5" cy="61.9" r="1.5"/><circle cx="673.7" cy="66.2" r="1.5"/><circle cx="674.2" cy="70.7" r="1.5"/></g>
<circle cx="707.4" cy="87.8" r="35.2" fill="#f4d678"/>
<g fill="#e8933f"><circle cx="742.4" cy="91.3" r="1.5"/><circle cx="741.7" cy="95.7" r="1.5"/><circle cx="740.4" cy="99.9" r="1.5"/><circle cx="738.7" cy="104.0" r="1.5"/><circle cx="736.4" cy="107.8" r="1.5"/><circle cx="733.7" cy="111.2" r="1.5"/><circle cx="730.5" cy="114.3" r="1.5"/><circle cx="727.0" cy="117.0" r="1.5"/><circle cx="723.2" cy="119.3" r="1.5"/><circle cx="719.1" cy="121.0" r="1.5"/><circle cx="714.9" cy="122.2" r="1.5"/><circle cx="710.5" cy="122.9" r="1.5"/><circle cx="706.1" cy="123.0" r="1.5"/><circle cx="701.7" cy="122.5" r="1.5"/><circle cx="697.4" cy="121.5" r="1.5"/><circle cx="693.2" cy="120.0" r="1.5"/><circle cx="689.3" cy="118.0" r="1.5"/><circle cx="685.7" cy="115.5" r="1.5"/><circle cx="682.4" cy="112.5" r="1.5"/><circle cx="679.5" cy="109.2" r="1.5"/><circle cx="677.0" cy="105.5" r="1.5"/><circle cx="675.0" cy="101.6" r="1.5"/><circle cx="673.5" cy="97.4" r="1.5"/><circle cx="672.6" cy="93.1" r="1.5"/><circle cx="672.2" cy="88.7" r="1.5"/><circle cx="672.4" cy="84.3" r="1.5"/><circle cx="673.1" cy="79.9" r="1.5"/><circle cx="674.4" cy="75.7" r="1.5"/><circle cx="676.1" cy="71.6" r="1.5"/><circle cx="678.4" cy="67.8" r="1.5"/><circle cx="681.1" cy="64.4" r="1.5"/><circle cx="684.3" cy="61.3" r="1.5"/><circle cx="687.8" cy="58.6" r="1.5"/><circle cx="691.6" cy="56.3" r="1.5"/><circle cx="695.7" cy="54.6" r="1.5"/><circle cx="699.9" cy="53.4" r="1.5"/><circle cx="704.3" cy="52.7" r="1.5"/><circle cx="708.7" cy="52.6" r="1.5"/><circle cx="713.1" cy="53.1" r="1.5"/><circle cx="717.4" cy="54.1" r="1.5"/><circle cx="721.6" cy="55.6" r="1.5"/><circle cx="725.5" cy="57.6" r="1.5"/><circle cx="729.1" cy="60.1" r="1.5"/><circle cx="732.4" cy="63.1" r="1.5"/><circle cx="735.3" cy="66.4" r="1.5"/><circle cx="737.8" cy="70.1" r="1.5"/><circle cx="739.8" cy="74.0" r="1.5"/><circle cx="741.3" cy="78.2" r="1.5"/><circle cx="742.2" cy="82.5" r="1.5"/><circle cx="742.6" cy="86.9" r="1.5"/></g>
<circle cx="612.2" cy="108.6" r="31.0" fill="#f4d678"/>
<g fill="#e8933f"><circle cx="643.0" cy="111.7" r="1.5"/><circle cx="642.3" cy="116.1" r="1.5"/><circle cx="640.9" cy="120.3" r="1.5"/><circle cx="639.0" cy="124.2" r="1.5"/><circle cx="636.5" cy="127.9" r="1.5"/><circle cx="633.5" cy="131.1" r="1.5"/><circle cx="630.1" cy="133.9" r="1.5"/><circle cx="626.3" cy="136.2" r="1.5"/><circle cx="622.2" cy="137.9" r="1.5"/><circle cx="617.9" cy="139.1" r="1.5"/><circle cx="613.5" cy="139.6" r="1.5"/><circle cx="609.1" cy="139.4" r="1.5"/><circle cx="604.7" cy="138.7" r="1.5"/><circle cx="600.5" cy="137.3" r="1.5"/><circle cx="596.6" cy="135.4" r="1.5"/><circle cx="592.9" cy="132.9" r="1.5"/><circle cx="589.7" cy="129.9" r="1.5"/><circle cx="586.9" cy="126.5" r="1.5"/><circle cx="584.6" cy="122.7" r="1.5"/><circle cx="582.9" cy="118.6" r="1.5"/><circle cx="581.7" cy="114.3" r="1.5"/><circle cx="581.2" cy="109.9" r="1.5"/><circle cx="581.4" cy="105.5" r="1.5"/><circle cx="582.1" cy="101.1" r="1.5"/><circle cx="583.5" cy="96.9" r="1.5"/><circle cx="585.4" cy="93.0" r="1.5"/><circle cx="587.9" cy="89.3" r="1.5"/><circle cx="590.9" cy="86.1" r="1.5"/><circle cx="594.3" cy="83.3" r="1.5"/><circle cx="598.1" cy="81.0" r="1.5"/><circle cx="602.2" cy="79.3" r="1.5"/><circle cx="606.5" cy="78.1" r="1.5"/><circle cx="610.9" cy="77.6" r="1.5"/><circle cx="615.3" cy="77.8" r="1.5"/><circle cx="619.7" cy="78.5" r="1.5"/><circle cx="623.9" cy="79.9" r="1.5"/><circle cx="627.8" cy="81.8" r="1.5"/><circle cx="631.5" cy="84.3" r="1.5"/><circle cx="634.7" cy="87.3" r="1.5"/><circle cx="637.5" cy="90.7" r="1.5"/><circle cx="639.8" cy="94.5" r="1.5"/><circle cx="641.5" cy="98.6" r="1.5"/><circle cx="642.7" cy="102.9" r="1.5"/><circle cx="643.2" cy="107.3" r="1.5"/></g>
<circle cx="669.3" cy="120.3" r="30.0" fill="#f4d678"/>
<g fill="#e8933f"><circle cx="699.2" cy="123.3" r="1.5"/><circle cx="698.4" cy="127.7" r="1.5"/><circle cx="696.9" cy="132.0" r="1.5"/><circle cx="694.9" cy="135.9" r="1.5"/><circle cx="692.3" cy="139.6" r="1.5"/><circle cx="689.1" cy="142.8" r="1.5"/><circle cx="685.6" cy="145.5" r="1.5"/><circle cx="681.6" cy="147.6" r="1.5"/><circle cx="677.4" cy="149.2" r="1.5"/><circle cx="673.0" cy="150.1" r="1.5"/><circle cx="668.5" cy="150.3" r="1.5"/><circle cx="664.1" cy="149.8" r="1.5"/><circle cx="659.7" cy="148.7" r="1.5"/><circle cx="655.6" cy="147.0" r="1.5"/><circle cx="651.8" cy="144.7" r="1.5"/><circle cx="648.3" cy="141.8" r="1.5"/><circle cx="645.4" cy="138.4" r="1.5"/><circle cx="642.9" cy="134.6" r="1.5"/><circle cx="641.1" cy="130.6" r="1.5"/><circle cx="639.9" cy="126.2" r="1.5"/><circle cx="639.3" cy="121.8" r="1.5"/><circle cx="639.4" cy="117.3" r="1.5"/><circle cx="640.2" cy="112.9" r="1.5"/><circle cx="641.7" cy="108.6" r="1.5"/><circle cx="643.7" cy="104.7" r="1.5"/><circle cx="646.3" cy="101.0" r="1.5"/><circle cx="649.5" cy="97.8" r="1.5"/><circle cx="653.0" cy="95.1" r="1.5"/><circle cx="657.0" cy="93.0" r="1.5"/><circle cx="661.2" cy="91.4" r="1.5"/><circle cx="665.6" cy="90.5" r="1.5"/><circle cx="670.1" cy="90.3" r="1.5"/><circle cx="674.5" cy="90.8" r="1.5"/><circle cx="678.9" cy="91.9" r="1.5"/><circle cx="683.0" cy="93.6" r="1.5"/><circle cx="686.8" cy="95.9" r="1.5"/><circle cx="690.3" cy="98.8" r="1.5"/><circle cx="693.2" cy="102.2" r="1.5"/><circle cx="695.7" cy="106.0" r="1.5"/><circle cx="697.5" cy="110.0" r="1.5"/><circle cx="698.7" cy="114.4" r="1.5"/><circle cx="699.3" cy="118.8" r="1.5"/></g>
<text x="614.6" y="166.0" font-size="16" fill="#18201b" stroke="#18201b" stroke-width="0.42" textLength="80.1" lengthAdjust="spacingAndGlyphs" >Lipid droplet</text>
<path d="M577.3 121.1 Q548.0 146.0 536.1 170.8" fill="none" stroke="#18201b" stroke-width="2.7" stroke-linecap="round"/>
<polygon points="533.1,177.1 533.6,164.6 537.1,168.8 542.6,168.9" fill="#18201b"/>
<path d="M744.6 108.3 Q803.0 136.0 824.3 178.7" fill="none" stroke="#18201b" stroke-width="2.7" stroke-linecap="round"/>
<polygon points="827.4,185.0 817.8,176.9 823.3,176.8 826.7,172.5" fill="#18201b"/>
<g transform="translate(465.5 2.9)" fill="none" stroke="#18201b" stroke-width="1.2"><path d="M61 177 L49 177 C38 180 27 195 23.5 213 C20.5 232 27 248 44.5 255.2"/><path d="M63.6 182.8 L52 183 C42 186 32 199 28.5 215 C26 230 32 243.5 50 251.2"/></g>
<circle cx="490.8" cy="190.0" r="9.0" fill="#14a37e" stroke="#63d9b1" stroke-width="1.0"/>
<circle cx="511.2" cy="183.9" r="9.0" fill="#14a37e" stroke="#63d9b1" stroke-width="1.0"/>
<circle cx="503.0" cy="205.2" r="9.0" fill="#14a37e" stroke="#63d9b1" stroke-width="1.0"/>
<circle cx="483.5" cy="217.0" r="9.0" fill="#14a37e" stroke="#63d9b1" stroke-width="1.0"/>
<circle cx="500.4" cy="231.3" r="9.0" fill="#14a37e" stroke="#63d9b1" stroke-width="1.0"/>
<circle cx="494.3" cy="252.8" r="9.0" fill="#14a37e" stroke="#63d9b1" stroke-width="1.0"/>
<circle cx="537.5" cy="227.5" r="21.0" fill="#f4d678"/>
<g fill="#e8933f"><circle cx="558.4" cy="229.6" r="1.5"/><circle cx="557.5" cy="233.9" r="1.5"/><circle cx="555.7" cy="237.9" r="1.5"/><circle cx="553.2" cy="241.5" r="1.5"/><circle cx="549.9" cy="244.4" r="1.5"/><circle cx="546.1" cy="246.6" r="1.5"/><circle cx="542.0" cy="248.0" r="1.5"/><circle cx="537.6" cy="248.5" r="1.5"/><circle cx="533.2" cy="248.1" r="1.5"/><circle cx="529.0" cy="246.7" r="1.5"/><circle cx="525.2" cy="244.5" r="1.5"/><circle cx="522.0" cy="241.6" r="1.5"/><circle cx="519.4" cy="238.1" r="1.5"/><circle cx="517.6" cy="234.1" r="1.5"/><circle cx="516.6" cy="229.8" r="1.5"/><circle cx="516.6" cy="225.4" r="1.5"/><circle cx="517.5" cy="221.1" r="1.5"/><circle cx="519.3" cy="217.1" r="1.5"/><circle cx="521.8" cy="213.5" r="1.5"/><circle cx="525.1" cy="210.6" r="1.5"/><circle cx="528.9" cy="208.4" r="1.5"/><circle cx="533.0" cy="207.0" r="1.5"/><circle cx="537.4" cy="206.5" r="1.5"/><circle cx="541.8" cy="206.9" r="1.5"/><circle cx="546.0" cy="208.3" r="1.5"/><circle cx="549.8" cy="210.5" r="1.5"/><circle cx="553.0" cy="213.4" r="1.5"/><circle cx="555.6" cy="216.9" r="1.5"/><circle cx="557.4" cy="220.9" r="1.5"/><circle cx="558.4" cy="225.2" r="1.5"/></g>
<text x="496.3" y="275.1" font-size="15" fill="#18201b" stroke="#18201b" stroke-width="0.42" textLength="41.7" lengthAdjust="spacingAndGlyphs" >LC3-II</text>
<path d="M651.6 192 L672 175.5 Q675 173.6 679 173.2 L693 171.9 Q696.5 171.8 695 174.5 L686.5 190 Q685 192.3 682 192.8 L660 197.3 Q653 198 651.6 192Z" fill="url(#gTigar)" stroke="#93def0" stroke-width="1.3" stroke-linejoin="round"/>
<path d="M645.9 208.9 L668 201.3 Q671.2 200.3 674.5 201.2 L700 208.6 Q703 209.8 700.5 211.5 L690 216.5 Q681 218.6 671 218.6 Q661 218.4 653.5 215.9 Q646.5 212.5 645.9 208.9Z" fill="url(#gTigar)" stroke="#93def0" stroke-width="1.3" stroke-linejoin="round"/>
<text x="653.4" y="233.3" font-size="15.3" fill="#18201b" stroke="#18201b" stroke-width="0.42" textLength="45.4" lengthAdjust="spacingAndGlyphs" >TIGAR</text>
<path d="M664.1 239.0 L667.0 275.5 M660.7 276.0 L673.3 275.0" fill="none" stroke="#b0222f" stroke-width="2.5"/>
<circle cx="669.6" cy="292.6" r="5.8" fill="url(#gUb)" stroke="#33281d" stroke-width="0.8"/>
<circle cx="673.9" cy="288.0" r="6.0" fill="url(#gUb)" stroke="#33281d" stroke-width="0.8"/>
<circle cx="678.3" cy="283.3" r="6.3" fill="url(#gUb)" stroke="#33281d" stroke-width="0.8"/>
<circle cx="682.8" cy="278.1" r="6.8" fill="url(#gUb)" stroke="#33281d" stroke-width="0.8"/>
<rect x="624.0" y="287.0" width="45.4" height="19.6" rx="9.8" fill="url(#gLrrk)" stroke="#4a0d1a" stroke-width="0.9"/>
<text x="689.9" y="295.0" font-size="15" fill="#18201b" stroke="#18201b" stroke-width="0.42" textLength="17.8" lengthAdjust="spacingAndGlyphs" >Ub</text>
<text x="627.6" y="317.3" font-size="15" fill="#18201b" stroke="#18201b" stroke-width="0.42" textLength="47.1" lengthAdjust="spacingAndGlyphs" >LRRK2</text>
<path d="M668.7 319.7 Q669.9 336.0 670.6 345.7" fill="none" stroke="#b0222f" stroke-width="2.5" stroke-linecap="round"/>
<polygon points="671.1,352.7 665.0,341.1 670.4,343.1 675.5,340.4" fill="#b0222f"/>
<rect x="635.9" y="354.5" width="47.2" height="18.7" rx="9.35" fill="url(#gLrrk)" stroke="#4a0d1a" stroke-width="0.9"/>
<rect x="655.0" y="373.2" width="46.0" height="18.8" rx="9.4" fill="url(#gLrrk)" stroke="#4a0d1a" stroke-width="0.9"/>
<text x="644.2" y="408.3" font-size="15" fill="#18201b" stroke="#18201b" stroke-width="0.42" textLength="46.8" lengthAdjust="spacingAndGlyphs" >LRRK2</text>
<text x="639.0" y="422.7" font-size="15" fill="#18201b" stroke="#18201b" stroke-width="0.42" textLength="81.9" lengthAdjust="spacingAndGlyphs" >accumulation</text>
<path d="M636.8 347.5 L557.8 270.6 M563.2 265.0 L552.4 276.2" fill="none" stroke="#b0222f" stroke-width="2.5"/>
<path d="M714.9 362.8 L839.6 331.8 M841.5 339.4 L837.7 324.2" fill="none" stroke="#b0222f" stroke-width="2.5"/>
<path d="M704.7 389.2 Q736.0 400.0 760.6 408.3" fill="none" stroke="#b0222f" stroke-width="2.5" stroke-linecap="round"/>
<polygon points="767.2,410.6 753.6,411.8 757.7,407.4 757.1,401.4" fill="#b0222f"/>
<rect x="822.3" y="190.7" width="29" height="15" rx="3.8" fill="url(#gHsc)" transform="rotate(0 836.8 198.2)"/>
<text x="818.9" y="222.2" font-size="16" fill="#18201b" stroke="#18201b" stroke-width="0.42" textLength="38.2" lengthAdjust="spacingAndGlyphs" >Hsc70</text>
<path d="M851.0 231.3 Q864.5 270.0 866.0 299.0" fill="none" stroke="#18201b" stroke-width="2.7" stroke-linecap="round"/>
<polygon points="866.4,306.0 860.8,294.8 865.9,296.8 870.8,294.3" fill="#18201b"/>
<rect x="834.4" y="305.1" width="28" height="14" rx="3.8" fill="url(#gHsc)" transform="rotate(27 848.4 312.1)"/>
<g transform="translate(459.3 -12.6)"><path d="M393.5 345.5 C394 355 396.5 368 401.3 381.8 L402.4 381.2 C401.8 368 400.5 356 398.6 346.5Z" fill="url(#gLamp)" stroke="#7d5a9c" stroke-width="0.5"/><path d="M403.6 343.5 C403.8 356 405 369 406.5 380.2 L407.7 380 C408.6 368 409 355 408.4 343Z" fill="url(#gLamp)" stroke="#7d5a9c" stroke-width="0.5"/></g>
<ellipse cx="850.5" cy="406.1" rx="46.0" ry="53.2" fill="#b3b9d9" stroke="#c99a55" stroke-width="2.6"/>
<g transform="translate(459.3 -12.6)"><path d="M393.5 345.5 C394 355 396.5 368 401.3 381.8 L402.4 381.2 C401.8 368 400.5 356 398.6 346.5Z" fill="url(#gLamp)" stroke="#7d5a9c" stroke-width="0.5"/><path d="M403.6 343.5 C403.8 356 405 369 406.5 380.2 L407.7 380 C408.6 368 409 355 408.4 343Z" fill="url(#gLamp)" stroke="#7d5a9c" stroke-width="0.5"/></g>
<g transform="translate(449.5 -11.7)">
<path d="M322.8 398 C321.5 388 328 381.5 336.5 381.3 C343 381.2 349 383 352.5 386.5 C356.5 390.5 358.3 395 358.7 400 C359.5 408 359.5 416 359.2 424 C359 430 358.3 436 357 441 C356 446 354.5 449.5 352 451.8 C349 454.5 345.5 455.5 342.2 455.3 C338 455 334.5 452.5 333.5 448 L322.8 398Z" fill="url(#gRab)" stroke="#3b2414" stroke-width="1.1"/>
<path d="M322.3 399.6 C324 397.5 327 396.5 329.6 396.4 C331.5 396.3 333.5 396.5 334.7 397.2 C336 400.5 336.5 404 337.7 407.5 C339 411 341 413.5 342.4 416.2 C344 420 345.5 424 345.3 428 C345.2 430.5 344.5 432.8 343.3 434.8 C342 437.5 340.3 440.3 338.3 442.5 C336.5 444.3 334.5 445.8 332.4 446 C329.5 446 327 442 325.6 438.5 C324 434 323.2 429.5 322.6 425 C321.8 420 321 414.5 320.7 409.5 C320.5 406 320.8 402 322.3 399.6Z" fill="url(#gLrrkV)" stroke="#2e0a14" stroke-width="1.15"/>
<ellipse cx="342.9" cy="400.3" rx="8.2" ry="10.2" fill="url(#gGtp)" stroke="#a97a25" stroke-width="0.8"/>
<text x="336.2" y="403.2" font-size="5.2" fill="#18201b" stroke="#18201b" stroke-width="0.1" textLength="16.4" lengthAdjust="spacingAndGlyphs" font-weight="bold" >GTPase</text>
<path d="M349.7 439.8 L360.1 458.1" stroke="#18201b" stroke-width="1.3" fill="none"/>
</g>
<text x="844.1" y="379.7" font-size="15" fill="#18201b" stroke="#18201b" stroke-width="0.42" textLength="64.9" lengthAdjust="spacingAndGlyphs" >LAMP-2A</text>
<text x="818.7" y="414.2" font-size="15" fill="#18201b" stroke="#18201b" stroke-width="0.42" textLength="61.3" lengthAdjust="spacingAndGlyphs" transform="rotate(-4.5 818.7 414.2)" >Lysosome</text>
<text x="799.3" y="457.6" font-size="15" fill="#18201b" stroke="#18201b" stroke-width="0.42" textLength="39.1" lengthAdjust="spacingAndGlyphs" >Rab7b</text>
<g transform="rotate(-21 748 443.3)"><rect x="738.2" y="416.8" width="19.6" height="53" rx="9.8" fill="url(#gRilp)" stroke="#2e1a22" stroke-width="1.15"/></g>
<text x="741.6" y="433.6" font-size="9.8" fill="#18201b" stroke="#18201b" stroke-width="0.2" textLength="21.5" lengthAdjust="spacingAndGlyphs" transform="rotate(69 741.6 433.6)" >RILP</text>
<path d="M501.2 281.8 Q501.0 310.0 499.8 331.4" fill="none" stroke="#18201b" stroke-width="2.7" stroke-linecap="round"/>
<polygon points="499.4,338.4 495.1,326.6 499.9,329.2 505.0,327.2" fill="#18201b"/>
<path d="M523.2 455.6 Q536.0 499.0 557.0 528.5" fill="none" stroke="#18201b" stroke-width="2.7" stroke-linecap="round"/>
<polygon points="561.1,534.2 550.4,527.7 555.8,526.7 558.5,521.9" fill="#18201b"/>
<path d="M848.5 462.1 Q838.0 496.0 825.1 516.3" fill="none" stroke="#18201b" stroke-width="2.7" stroke-linecap="round"/>
<polygon points="821.3,522.2 823.3,509.8 826.2,514.4 831.7,515.2" fill="#18201b"/>
<ellipse cx="520.6" cy="390.2" rx="47.2" ry="44.2" fill="#e4f3ec" stroke="#18201b" stroke-width="1.1"/>
<ellipse cx="520.6" cy="390.2" rx="41.6" ry="38.6" fill="#f4d678" stroke="#18201b" stroke-width="1.1"/>
<circle cx="504.2" cy="350.1" r="8.7" fill="#14a37e" stroke="#63d9b1" stroke-width="1.0"/>
<circle cx="531.9" cy="346.1" r="8.7" fill="#14a37e" stroke="#63d9b1" stroke-width="1.0"/>
<circle cx="550.0" cy="359.2" r="8.7" fill="#14a37e" stroke="#63d9b1" stroke-width="1.0"/>
<circle cx="562.4" cy="383.2" r="8.7" fill="#14a37e" stroke="#63d9b1" stroke-width="1.0"/>
<circle cx="559.1" cy="412.6" r="8.7" fill="#14a37e" stroke="#63d9b1" stroke-width="1.0"/>
<circle cx="536.3" cy="427.8" r="8.7" fill="#14a37e" stroke="#63d9b1" stroke-width="1.0"/>
<circle cx="504.7" cy="427.8" r="8.7" fill="#14a37e" stroke="#63d9b1" stroke-width="1.0"/>
<circle cx="482.4" cy="418.0" r="8.7" fill="#14a37e" stroke="#63d9b1" stroke-width="1.0"/>
<circle cx="473.5" cy="391.5" r="8.7" fill="#14a37e" stroke="#63d9b1" stroke-width="1.0"/>
<circle cx="478.5" cy="367.9" r="8.7" fill="#14a37e" stroke="#63d9b1" stroke-width="1.0"/>
<text x="482.4" y="449.0" font-size="15" fill="#18201b" stroke="#18201b" stroke-width="0.42" textLength="99.6" lengthAdjust="spacingAndGlyphs" >Autophagosome</text>
<text x="623.0" y="502.4" font-size="22.6" fill="#a3262c" stroke="#a3262c" stroke-width="0.42" textLength="92.6" lengthAdjust="spacingAndGlyphs" >Non-fusion</text>
<ellipse cx="605.4" cy="569.4" rx="47.2" ry="44.2" fill="#e4f3ec" stroke="#18201b" stroke-width="1.1"/>
<ellipse cx="605.4" cy="569.4" rx="41.6" ry="38.6" fill="#f4d678" stroke="#18201b" stroke-width="1.1"/>
<circle cx="591.8" cy="531.1" r="8.7" fill="#14a37e" stroke="#63d9b1" stroke-width="1.0"/>
<circle cx="619.8" cy="526.7" r="8.7" fill="#14a37e" stroke="#63d9b1" stroke-width="1.0"/>
<circle cx="637.8" cy="540.2" r="8.7" fill="#14a37e" stroke="#63d9b1" stroke-width="1.0"/>
<circle cx="649.8" cy="564.1" r="8.7" fill="#14a37e" stroke="#63d9b1" stroke-width="1.0"/>
<circle cx="646.7" cy="593.4" r="8.7" fill="#14a37e" stroke="#63d9b1" stroke-width="1.0"/>
<circle cx="623.4" cy="608.9" r="8.7" fill="#14a37e" stroke="#63d9b1" stroke-width="1.0"/>
<circle cx="591.8" cy="608.9" r="8.7" fill="#14a37e" stroke="#63d9b1" stroke-width="1.0"/>
<circle cx="570.0" cy="599.4" r="8.7" fill="#14a37e" stroke="#63d9b1" stroke-width="1.0"/>
<circle cx="559.9" cy="572.5" r="8.7" fill="#14a37e" stroke="#63d9b1" stroke-width="1.0"/>
<circle cx="565.9" cy="549.0" r="8.7" fill="#14a37e" stroke="#63d9b1" stroke-width="1.0"/>
<ellipse cx="778.8" cy="557.6" rx="45.6" ry="53.5" fill="#b3b9d9" stroke="#c99a55" stroke-width="2.6"/>
<g transform="translate(376.3 140.4)">
<path d="M322.8 398 C321.5 388 328 381.5 336.5 381.3 C343 381.2 349 383 352.5 386.5 C356.5 390.5 358.3 395 358.7 400 C359.5 408 359.5 416 359.2 424 C359 430 358.3 436 357 441 C356 446 354.5 449.5 352 451.8 C349 454.5 345.5 455.5 342.2 455.3 C338 455 334.5 452.5 333.5 448 L322.8 398Z" fill="url(#gRab)" stroke="#3b2414" stroke-width="1.1"/>
<path d="M322.3 399.6 C324 397.5 327 396.5 329.6 396.4 C331.5 396.3 333.5 396.5 334.7 397.2 C336 400.5 336.5 404 337.7 407.5 C339 411 341 413.5 342.4 416.2 C344 420 345.5 424 345.3 428 C345.2 430.5 344.5 432.8 343.3 434.8 C342 437.5 340.3 440.3 338.3 442.5 C336.5 444.3 334.5 445.8 332.4 446 C329.5 446 327 442 325.6 438.5 C324 434 323.2 429.5 322.6 425 C321.8 420 321 414.5 320.7 409.5 C320.5 406 320.8 402 322.3 399.6Z" fill="url(#gLrrkV)" stroke="#2e0a14" stroke-width="1.15"/>
<ellipse cx="342.9" cy="400.3" rx="8.2" ry="10.2" fill="url(#gGtp)" stroke="#a97a25" stroke-width="0.8"/>
<text x="336.2" y="403.2" font-size="5.2" fill="#18201b" stroke="#18201b" stroke-width="0.1" textLength="16.4" lengthAdjust="spacingAndGlyphs" font-weight="bold" >GTPase</text>
<path d="M349.7 439.8 L360.1 458.1" stroke="#18201b" stroke-width="1.3" fill="none"/>
</g>
<text x="747.4" y="565.8" font-size="15" fill="#18201b" stroke="#18201b" stroke-width="0.42" textLength="61.6" lengthAdjust="spacingAndGlyphs" transform="rotate(-4.4 747.4 565.8)" >Lysosome</text>
<text x="727.2" y="609.1" font-size="15" fill="#18201b" stroke="#18201b" stroke-width="0.42" textLength="39.7" lengthAdjust="spacingAndGlyphs" >Rab7b</text>
<path d="M671.9 614.6 L671.9 648.6 M664.1 648.6 L679.7 648.6" fill="none" stroke="#b0222f" stroke-width="2.5"/>
<text x="642.6" y="662.3" font-size="15" fill="#18201b" stroke="#18201b" stroke-width="0.42" textLength="60.7" lengthAdjust="spacingAndGlyphs" >Fatty acid</text>
<path d="M671.9 665.5 L671.9 699.8 M663.9 699.8 L679.9 699.8" fill="none" stroke="#b0222f" stroke-width="2.5"/>
<text x="539.3" y="727.0" font-size="15" fill="#18201b" stroke="#18201b" stroke-width="0.42" textLength="70.3" lengthAdjust="spacingAndGlyphs" >β-oxidation</text>
<g transform="translate(457.5 -4.6)" stroke-linejoin="round">
<path d="M164 730.5 C166 741 176 752 192 756.5 C206 760 222 759.8 236 755.5 C250 751 260 739 262.3 724.5 L240 738 L200 747 L172 738Z" fill="url(#gMitoLow)" stroke="#2a6a47" stroke-width="0.9"/>
<path d="M164 730.4 C163.5 722 168 716.6 176 716.7 C186 717 194 722.5 204 722 C220 721 234 709.5 248 707.5 C257 706.5 263 714 262.2 724.3 C260 733.5 252 739.5 240 743.5 C226 748.5 208 750.5 194 748.5 C180 746.5 167.5 739.5 164 730.4Z" fill="#4f9f6d"/>
<g clip-path="url(#mf2)" fill="none" stroke-linecap="round"><g stroke="#2a6a47" stroke-width="5.0"><path d="M187.6 720 L188.6 738.6"/><path d="M208.2 720 L208.8 739.4"/><path d="M225.6 713 L230.0 728.8"/><path d="M242.4 708 L247.4 726.4"/><path d="M167.5 744 L176.6 732.9"/><path d="M198.8 752 L198.8 733.8"/><path d="M219.4 752 L219.4 733.8"/><path d="M241.0 746 L236.9 728.4"/></g><path d="M164 730.4 C163.5 722 168 716.6 176 716.7 C186 717 194 722.5 204 722 C220 721 234 709.5 248 707.5 C257 706.5 263 714 262.2 724.3 C260 733.5 252 739.5 240 743.5 C226 748.5 208 750.5 194 748.5 C180 746.5 167.5 739.5 164 730.4Z" stroke="#2a6a47" stroke-width="7.6"/><g stroke="#a9dcb2" stroke-width="3.6"><path d="M187.6 720 L188.6 738.6"/><path d="M208.2 720 L208.8 739.4"/><path d="M225.6 713 L230.0 728.8"/><path d="M242.4 708 L247.4 726.4"/><path d="M167.5 744 L176.6 732.9"/><path d="M198.8 752 L198.8 733.8"/><path d="M219.4 752 L219.4 733.8"/><path d="M241.0 746 L236.9 728.4"/></g><path d="M164 730.4 C163.5 722 168 716.6 176 716.7 C186 717 194 722.5 204 722 C220 721 234 709.5 248 707.5 C257 706.5 263 714 262.2 724.3 C260 733.5 252 739.5 240 743.5 C226 748.5 208 750.5 194 748.5 C180 746.5 167.5 739.5 164 730.4Z" stroke="#a9dcb2" stroke-width="6.2"/></g>
<path d="M164 730.4 C163.5 722 168 716.6 176 716.7 C186 717 194 722.5 204 722 C220 721 234 709.5 248 707.5 C257 706.5 263 714 262.2 724.3 C260 733.5 252 739.5 240 743.5 C226 748.5 208 750.5 194 748.5 C180 746.5 167.5 739.5 164 730.4Z" fill="none" stroke="#2a6a47" stroke-width="0.9"/>
</g>
<text x="627.7" y="770.0" font-size="15" fill="#18201b" stroke="#18201b" stroke-width="0.42" textLength="82.8" lengthAdjust="spacingAndGlyphs" >Mitochondria</text>
<path d="M725.6 727.8 L772.6 725.9 M772.9 734.1 L772.3 717.7" fill="none" stroke="#b0222f" stroke-width="2.5"/>
<text x="794.1" y="727.0" font-size="15" fill="#18201b" stroke="#18201b" stroke-width="0.42" textLength="26.6" lengthAdjust="spacingAndGlyphs" >ATP</text>
<circle cx="210.2" cy="898.0" r="45.0" fill="#f8f3d8" stroke="#1b1b1b" stroke-width="1.4"/>
<g transform="translate(210.2 898.0) rotate(78.0) scale(1 1)">
<path d="M38.3 15.5 A41.3 41.3 0 1 1 38.3 -15.5 L31.5 -15.5 A15.5 15.5 0 0 0 31.5 15.5Z" fill="#efb530"/>
<g clip-path="url(#cl1)">
<g filter="url(#fBlur2S)"><rect x="-45.0" y="-45.0" width="90.0" height="90.0" fill="#f5cb5c" mask="url(#m1_4)"/></g>
<g filter="url(#fBlurS)"><rect x="-45.0" y="-45.0" width="90.0" height="90.0" fill="#f8dc8a" mask="url(#m1_5)"/></g>
<g filter="url(#fBlurS)"><rect x="-45.0" y="-45.0" width="90.0" height="90.0" fill="#fcf2d2" mask="url(#m1_6)"/></g>
<circle cx="15.3" cy="-23.4" r="2.2" fill="#fdf4d6" filter="url(#fBlur0)"/><circle cx="9.9" cy="-13.9" r="1.3" fill="#fdf4d6"/><circle cx="0.5" cy="27.0" r="1.6" fill="#fdf4d6" filter="url(#fBlur0)"/><circle cx="-5.9" cy="27.9" r="1.1" fill="#fdf4d6"/><path d="M-32.9 3.6 Q-29.7 16.2 -16.2 19.8" fill="none" stroke="#fbeab2" stroke-width="1.6" stroke-linecap="round" filter="url(#fBlur0)"/>
</g>
<path d="M38.3 15.5 A41.3 41.3 0 1 1 38.3 -15.5 L31.5 -15.5 A15.5 15.5 0 0 0 31.5 15.5Z" fill="none" stroke="#2a2412" stroke-width="1.1" stroke-linejoin="round"/>
<ellipse cx="32.4" cy="0" rx="10.0" ry="9.7" fill="url(#gNuc)" stroke="#1c1f5e" stroke-width="0.8"/>
</g>
<circle cx="269.3" cy="913.0" r="45.8" fill="#f8f3d8" stroke="#1b1b1b" stroke-width="1.4"/>
<g transform="translate(269.3 913.0) rotate(12.0) scale(1 1)">
<path d="M38.9 16.0 A42.1 42.1 0 1 1 38.9 -16.0 L32.1 -16.0 A16.0 16.0 0 0 0 32.1 16.0Z" fill="#efb530"/>
<g clip-path="url(#cl2)">
<g filter="url(#fBlur2S)"><rect x="-45.8" y="-45.8" width="91.6" height="91.6" fill="#f5cb5c" mask="url(#m2_8)"/></g>
<g filter="url(#fBlurS)"><rect x="-45.8" y="-45.8" width="91.6" height="91.6" fill="#f8dc8a" mask="url(#m2_9)"/></g>
<g filter="url(#fBlurS)"><rect x="-45.8" y="-45.8" width="91.6" height="91.6" fill="#fcf2d2" mask="url(#m2_10)"/></g>
<circle cx="15.6" cy="-23.8" r="2.3" fill="#fdf4d6" filter="url(#fBlur0)"/><circle cx="10.1" cy="-14.2" r="1.3" fill="#fdf4d6"/><circle cx="0.5" cy="27.5" r="1.6" fill="#fdf4d6" filter="url(#fBlur0)"/><circle cx="-6.0" cy="28.4" r="1.1" fill="#fdf4d6"/><path d="M-33.4 3.7 Q-30.2 16.5 -16.5 20.2" fill="none" stroke="#fbeab2" stroke-width="1.6" stroke-linecap="round" filter="url(#fBlur0)"/>
</g>
<path d="M38.9 16.0 A42.1 42.1 0 1 1 38.9 -16.0 L32.1 -16.0 A16.0 16.0 0 0 0 32.1 16.0Z" fill="none" stroke="#2a2412" stroke-width="1.1" stroke-linejoin="round"/>
<ellipse cx="33.0" cy="0" rx="10.3" ry="10.0" fill="url(#gNuc)" stroke="#1c1f5e" stroke-width="0.8"/>
</g>
<circle cx="143.2" cy="942.9" r="46.5" fill="#f8f3d8" stroke="#1b1b1b" stroke-width="1.4"/>
<g transform="translate(143.2 942.9) rotate(-81.0) scale(1 1)">
<path d="M39.4 16.4 A42.7 42.7 0 1 1 39.4 -16.4 L32.5 -16.4 A16.4 16.4 0 0 0 32.5 16.4Z" fill="#efb530"/>
<g clip-path="url(#cl3)">
<g filter="url(#fBlur2S)"><rect x="-46.5" y="-46.5" width="93.0" height="93.0" fill="#f5cb5c" mask="url(#m3_12)"/></g>
<g filter="url(#fBlurS)"><rect x="-46.5" y="-46.5" width="93.0" height="93.0" fill="#f8dc8a" mask="url(#m3_13)"/></g>
<g filter="url(#fBlurS)"><rect x="-46.5" y="-46.5" width="93.0" height="93.0" fill="#fcf2d2" mask="url(#m3_14)"/></g>
<circle cx="15.8" cy="-24.2" r="2.3" fill="#fdf4d6" filter="url(#fBlur0)"/><circle cx="10.2" cy="-14.4" r="1.3" fill="#fdf4d6"/><circle cx="0.5" cy="27.9" r="1.6" fill="#fdf4d6" filter="url(#fBlur0)"/><circle cx="-6.0" cy="28.8" r="1.2" fill="#fdf4d6"/><path d="M-33.9 3.7 Q-30.7 16.7 -16.7 20.5" fill="none" stroke="#fbeab2" stroke-width="1.6" stroke-linecap="round" filter="url(#fBlur0)"/>
</g>
<path d="M39.4 16.4 A42.7 42.7 0 1 1 39.4 -16.4 L32.5 -16.4 A16.4 16.4 0 0 0 32.5 16.4Z" fill="none" stroke="#2a2412" stroke-width="1.1" stroke-linejoin="round"/>
<ellipse cx="33.5" cy="0" rx="10.6" ry="10.3" fill="url(#gNuc)" stroke="#1c1f5e" stroke-width="0.8"/>
</g>
<circle cx="219.7" cy="977.0" r="45.5" fill="#f8f3d8" stroke="#1b1b1b" stroke-width="1.4"/>
<g transform="translate(219.7 977.0) rotate(-54.0) scale(1 1)">
<path d="M38.6 16.1 A41.8 41.8 0 1 1 38.6 -16.1 L32.8 -16.1 A16.1 16.1 0 0 0 32.8 16.1Z" fill="#efb530"/>
<g clip-path="url(#cl4)">
<g filter="url(#fBlur2S)"><rect x="-45.5" y="-45.5" width="91.0" height="91.0" fill="#f5cb5c" mask="url(#m4_16)"/></g>
<g filter="url(#fBlurS)"><rect x="-45.5" y="-45.5" width="91.0" height="91.0" fill="#f8dc8a" mask="url(#m4_17)"/></g>
<g filter="url(#fBlurS)"><rect x="-45.5" y="-45.5" width="91.0" height="91.0" fill="#fcf2d2" mask="url(#m4_18)"/></g>
<circle cx="15.5" cy="-23.7" r="2.3" fill="#fdf4d6" filter="url(#fBlur0)"/><circle cx="10.0" cy="-14.1" r="1.3" fill="#fdf4d6"/><circle cx="0.5" cy="27.3" r="1.6" fill="#fdf4d6" filter="url(#fBlur0)"/><circle cx="-5.9" cy="28.2" r="1.1" fill="#fdf4d6"/><path d="M-33.2 3.6 Q-30.0 16.4 -16.4 20.0" fill="none" stroke="#fbeab2" stroke-width="1.6" stroke-linecap="round" filter="url(#fBlur0)"/>
</g>
<path d="M38.6 16.1 A41.8 41.8 0 1 1 38.6 -16.1 L32.8 -16.1 A16.1 16.1 0 0 0 32.8 16.1Z" fill="none" stroke="#2a2412" stroke-width="1.1" stroke-linejoin="round"/>
<ellipse cx="33.7" cy="0" rx="10.4" ry="10.1" fill="url(#gNuc)" stroke="#1c1f5e" stroke-width="0.8"/>
</g>
<text x="100.4" y="1021.1" font-size="18.5" fill="#18201b" stroke="#18201b" stroke-width="0.42" textLength="57.8" lengthAdjust="spacingAndGlyphs" >Normal</text>
<circle cx="566.6" cy="914.5" r="66.0" fill="#f8f3d8" stroke="#1b1b1b" stroke-width="1.4"/>
<g transform="translate(566.6 914.5) rotate(69.0) scale(1 1)">
<path d="M56.8 21.5 A60.8 60.8 0 1 1 56.8 -21.5 L50.2 -21.5 A21.5 21.5 0 0 0 50.2 21.5Z" fill="#efb530"/>
<g clip-path="url(#cl5)">
<g filter="url(#fBlur2L)"><rect x="-66.0" y="-66.0" width="132.0" height="132.0" fill="#f5cb5c" mask="url(#m5_20)"/></g>
<g filter="url(#fBlurL)"><rect x="-66.0" y="-66.0" width="132.0" height="132.0" fill="#f8dc8a" mask="url(#m5_21)"/></g>
<g filter="url(#fBlurL)"><rect x="-66.0" y="-66.0" width="132.0" height="132.0" fill="#fcf2d2" mask="url(#m5_22)"/></g>
<circle cx="22.4" cy="-34.3" r="3.3" fill="#fdf4d6" filter="url(#fBlur0)"/><circle cx="14.5" cy="-20.5" r="1.8" fill="#fdf4d6"/><circle cx="0.7" cy="39.6" r="2.3" fill="#fdf4d6" filter="url(#fBlur0)"/><circle cx="-8.6" cy="40.9" r="1.7" fill="#fdf4d6"/><path d="M-48.2 5.3 Q-43.6 23.8 -23.8 29.0" fill="none" stroke="#fbeab2" stroke-width="2.3" stroke-linecap="round" filter="url(#fBlur0)"/>
</g>
<path d="M56.8 21.5 A60.8 60.8 0 1 1 56.8 -21.5 L50.2 -21.5 A21.5 21.5 0 0 0 50.2 21.5Z" fill="none" stroke="#2a2412" stroke-width="1.1" stroke-linejoin="round"/>
<ellipse cx="51.5" cy="0" rx="14.8" ry="14.4" fill="url(#gNuc)" stroke="#1c1f5e" stroke-width="0.8"/>
</g>
<circle cx="742.7" cy="917.3" r="66.5" fill="#f8f3d8" stroke="#1b1b1b" stroke-width="1.4"/>
<g transform="translate(742.7 917.3) rotate(79.0) scale(1 1)">
<path d="M57.7 20.3 A61.2 61.2 0 1 1 57.7 -20.3 L48.5 -20.3 A20.3 20.3 0 0 0 48.5 20.3Z" fill="#efb530"/>
<g clip-path="url(#cl6)">
<g filter="url(#fBlur2L)"><rect x="-66.5" y="-66.5" width="133.0" height="133.0" fill="#f5cb5c" mask="url(#m6_24)"/></g>
<g filter="url(#fBlurL)"><rect x="-66.5" y="-66.5" width="133.0" height="133.0" fill="#f8dc8a" mask="url(#m6_25)"/></g>
<g filter="url(#fBlurL)"><rect x="-66.5" y="-66.5" width="133.0" height="133.0" fill="#fcf2d2" mask="url(#m6_26)"/></g>
<circle cx="22.6" cy="-34.6" r="3.3" fill="#fdf4d6" filter="url(#fBlur0)"/><circle cx="14.6" cy="-20.6" r="1.9" fill="#fdf4d6"/><circle cx="0.7" cy="39.9" r="2.3" fill="#fdf4d6" filter="url(#fBlur0)"/><circle cx="-8.6" cy="41.2" r="1.7" fill="#fdf4d6"/><path d="M-48.5 5.3 Q-43.9 23.9 -23.9 29.3" fill="none" stroke="#fbeab2" stroke-width="2.3" stroke-linecap="round" filter="url(#fBlur0)"/>
</g>
<path d="M57.7 20.3 A61.2 61.2 0 1 1 57.7 -20.3 L48.5 -20.3 A20.3 20.3 0 0 0 48.5 20.3Z" fill="none" stroke="#2a2412" stroke-width="1.1" stroke-linejoin="round"/>
<ellipse cx="49.9" cy="0" rx="14.0" ry="13.6" fill="url(#gNuc)" stroke="#1c1f5e" stroke-width="0.8"/>
</g>
<circle cx="657.9" cy="912.0" r="68.0" fill="#f8f3d8" stroke="#1b1b1b" stroke-width="1.4"/>
<g transform="translate(657.9 912.0) rotate(-45.0) scale(1 1)">
<path d="M58.7 21.8 A62.6 62.6 0 1 1 58.7 -21.8 L47.6 -21.8 A21.8 21.8 0 0 0 47.6 21.8Z" fill="#efb530"/>
<g clip-path="url(#cl7)">
<g filter="url(#fBlur2L)"><rect x="-68.0" y="-68.0" width="136.0" height="136.0" fill="#f5cb5c" mask="url(#m7_28)"/></g>
<g filter="url(#fBlurL)"><rect x="-68.0" y="-68.0" width="136.0" height="136.0" fill="#f8dc8a" mask="url(#m7_29)"/></g>
<g filter="url(#fBlurL)"><rect x="-68.0" y="-68.0" width="136.0" height="136.0" fill="#fcf2d2" mask="url(#m7_30)"/></g>
<circle cx="23.1" cy="-35.4" r="3.4" fill="#fdf4d6" filter="url(#fBlur0)"/><circle cx="15.0" cy="-21.1" r="1.9" fill="#fdf4d6"/><circle cx="0.7" cy="40.8" r="2.4" fill="#fdf4d6" filter="url(#fBlur0)"/><circle cx="-8.8" cy="42.2" r="1.7" fill="#fdf4d6"/><path d="M-49.6 5.4 Q-44.9 24.5 -24.5 29.9" fill="none" stroke="#fbeab2" stroke-width="2.4" stroke-linecap="round" filter="url(#fBlur0)"/>
</g>
<path d="M58.7 21.8 A62.6 62.6 0 1 1 58.7 -21.8 L47.6 -21.8 A21.8 21.8 0 0 0 47.6 21.8Z" fill="none" stroke="#2a2412" stroke-width="1.1" stroke-linejoin="round"/>
<ellipse cx="49.0" cy="0" rx="15.0" ry="14.5" fill="url(#gNuc)" stroke="#1c1f5e" stroke-width="0.8"/>
</g>
<circle cx="674.2" cy="1001.6" r="75.2" fill="#f8f3d8" stroke="#1b1b1b" stroke-width="1.4"/>
<g transform="translate(674.2 1001.6) rotate(13.0) scale(1 1)">
<path d="M65.4 22.8 A69.3 69.3 0 1 1 65.4 -22.8 L52.6 -22.8 A22.8 22.8 0 0 0 52.6 22.8Z" fill="#efb530"/>
<g clip-path="url(#cl8)">
<g filter="url(#fBlur2L)"><rect x="-75.2" y="-75.2" width="150.4" height="150.4" fill="#f5cb5c" mask="url(#m8_32)"/></g>
<g filter="url(#fBlurL)"><rect x="-75.2" y="-75.2" width="150.4" height="150.4" fill="#f8dc8a" mask="url(#m8_33)"/></g>
<g filter="url(#fBlurL)"><rect x="-75.2" y="-75.2" width="150.4" height="150.4" fill="#fcf2d2" mask="url(#m8_34)"/></g>
<circle cx="25.6" cy="-39.1" r="3.8" fill="#fdf4d6" filter="url(#fBlur0)"/><circle cx="16.5" cy="-23.3" r="2.1" fill="#fdf4d6"/><circle cx="0.8" cy="45.1" r="2.6" fill="#fdf4d6" filter="url(#fBlur0)"/><circle cx="-9.8" cy="46.6" r="1.9" fill="#fdf4d6"/><path d="M-54.9 6.0 Q-49.6 27.1 -27.1 33.1" fill="none" stroke="#fbeab2" stroke-width="2.6" stroke-linecap="round" filter="url(#fBlur0)"/>
</g>
<path d="M65.4 22.8 A69.3 69.3 0 1 1 65.4 -22.8 L52.6 -22.8 A22.8 22.8 0 0 0 52.6 22.8Z" fill="none" stroke="#2a2412" stroke-width="1.1" stroke-linejoin="round"/>
<ellipse cx="54.1" cy="0" rx="15.7" ry="15.2" fill="url(#gNuc)" stroke="#1c1f5e" stroke-width="0.8"/>
</g>
<text x="533.1" y="1020.5" font-size="18.5" fill="#18201b" stroke="#18201b" stroke-width="0.42" textLength="58.3" lengthAdjust="spacingAndGlyphs" >Obesity</text>
</g>
</svg>
</body>
</html>
